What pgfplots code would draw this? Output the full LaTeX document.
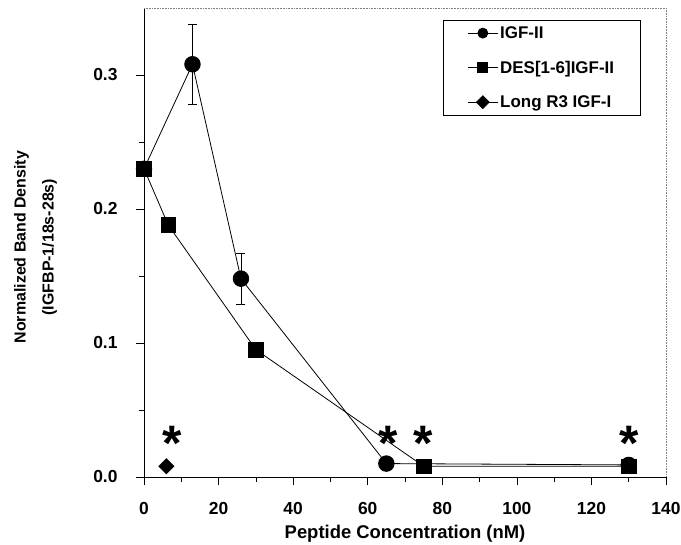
\documentclass[border=0pt]{standalone}
\usepackage{fontspec}
\setmainfont{Liberation Sans}
\usepackage{pgfplots}
\pgfplotsset{compat=1.18}

\begin{document}
\begin{tikzpicture}
\begin{axis}[
    scale only axis,
    width=522bp, height=469bp,
    xmin=0, xmax=140, ymin=0, ymax=0.35,
    axis x line*=bottom, axis y line*=left,
    axis line style={black, line width=0.8bp, -},
    xtick={0,20,...,140},
    minor xtick={10,30,...,130},
    ytick={0,0.1,0.2,0.3},
    minor ytick={0.05,0.15,0.25},
    tick align=outside,
    tick style={black, line width=0.7bp},
    major tick length=8bp, minor tick length=5bp,
    /pgf/number format/assume math mode=true,
    yticklabel style={/pgf/number format/fixed,
        /pgf/number format/fixed zerofill, /pgf/number format/precision=1},
    ticklabel style={font=\fontsize{17.5}{20}\selectfont\bfseries},
    xticklabel style={yshift=-14bp},
    yticklabel style={xshift=-15bp},
    xlabel={Peptide Concentration (nM)},
    xlabel style={font=\fontsize{18.5}{22}\selectfont\bfseries,
        at={(axis description cs:0.5,-0.121)}, anchor=center},
    ylabel={Normalized Band Density\\(IGFBP-1/18s-28s)},
    ylabel style={font=\fontsize{16}{28}\selectfont\bfseries, align=center,
        at={(axis description cs:-0.208,0.49)}, anchor=center, rotate=0},
    clip=false,
    legend style={at={(rel axis cs:0.573,0.974)}, anchor=north west,
        draw=black, line width=0.6bp, fill=white,
        font=\fontsize{17}{20}\selectfont\bfseries,
        inner xsep=24bp, inner ysep=4bp,
        row sep=17bp, cells={anchor=west}},
    legend image code/.code={
        \draw[mark repeat=2, mark phase=2, #1]
            plot coordinates {(0bp,0bp) (15bp,0bp) (30bp,0bp)};},
]

% DES(1-6)IGF-II
\addplot[black, line width=0.8bp, mark=square*, mark size=7.3bp, forget plot]
coordinates {(0,0.230) (6.5,0.188) (30,0.095) (75,0.008) (130,0.008)};

% IGF-II with error bars
\addplot[black, line width=0.8bp, mark=*, mark size=7.8bp, forget plot,
    error bars/.cd, y dir=both, y explicit,
    error bar style={line width=0.7bp},
    error mark options={rotate=90, mark size=4.5bp, line width=0.7bp}]
coordinates {(0,0.230) (13,0.308) +- (0,0.030) (26,0.148) +- (0,0.019)
    (65,0.010) (130,0.009)};

% Long R3 IGF-I
\addplot[black, only marks, mark=square*, mark size=5.5bp,
    mark options={rotate=45}, forget plot]
coordinates {(6,0.008)};

\addlegendimage{black, line width=0.8bp, mark=*, mark size=5bp}
\addlegendentry{IGF-II}
\addlegendimage{black, line width=0.8bp, mark=square*, mark size=5bp}
\addlegendentry{DES[1-6]IGF-II}
\addlegendimage{black, line width=0.8bp, mark=square*, mark size=4.5bp, mark options={rotate=45}}
\addlegendentry{Long R3 IGF-I}

% faint top/right frame
\draw[densely dotted, gray, line width=0.6bp]
    (rel axis cs:0,1) -- (rel axis cs:1,1) -- (rel axis cs:1,0);

% significance asterisks
\node[font=\fontsize{50}{50}\selectfont\bfseries, inner sep=0pt] at (axis cs:7.5,0.025) {*};
\node[font=\fontsize{50}{50}\selectfont\bfseries, inner sep=0pt] at (axis cs:65.5,0.025) {*};
\node[font=\fontsize{50}{50}\selectfont\bfseries, inner sep=0pt] at (axis cs:75,0.025) {*};
\node[font=\fontsize{50}{50}\selectfont\bfseries, inner sep=0pt] at (axis cs:130,0.025) {*};

\coordinate (bbsw) at (rel axis cs:-0.2759,-0.145);
\coordinate (bbne) at (rel axis cs:1.0287,1.017);
\end{axis}
\pgfresetboundingbox
\path (bbsw) rectangle (bbne);
\end{tikzpicture}
\end{document}
